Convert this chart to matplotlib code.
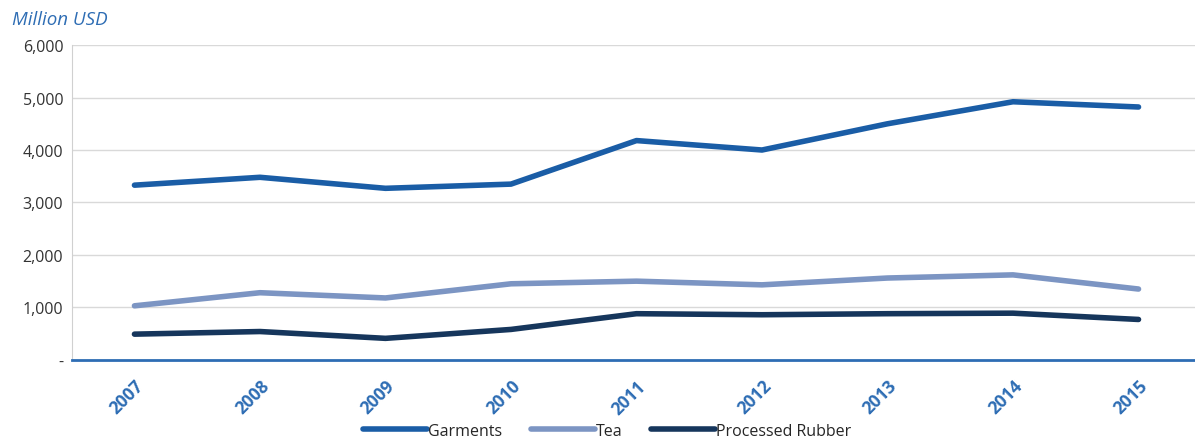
import numpy as np
import matplotlib
matplotlib.use("Agg")
import matplotlib.pyplot as plt
from matplotlib.ticker import FuncFormatter

years = ["2007", "2008", "2009", "2010", "2011", "2012", "2013", "2014", "2015"]
garments = [3330, 3480, 3270, 3350, 4180, 4000, 4500, 4920, 4820]
tea = [1030, 1280, 1180, 1450, 1500, 1430, 1560, 1620, 1350]
rubber = [490, 540, 410, 580, 880, 860, 880, 890, 770]

plt.rcParams['font.family'] = ['Open Sans', 'DejaVu Sans']

fig = plt.figure(figsize=(11.95, 4.39), dpi=100)
ax = fig.add_axes([0.060, 0.178, 0.940, 0.717])

x = np.arange(len(years))
kw = dict(lw=4.0, solid_capstyle='round', solid_joinstyle='round')
ax.plot(x, garments, color='#1a5da6', label='Garments', **kw)
ax.plot(x, tea, color='#7c95c3', label='Tea', **kw)
ax.plot(x, rubber, color='#16365c', label='Processed Rubber', **kw)

ax.set_xlim(-0.5, 8.45)
ax.set_ylim(0, 6000)
ax.set_yticks(range(0, 6001, 1000))
ax.yaxis.set_major_formatter(FuncFormatter(lambda v, p: '-' if v == 0 else f'{int(v):,}'))
ax.grid(axis='y', color='#d9d9d9', lw=1)
ax.set_axisbelow(True)

ax.set_xticks(x)
ax.set_xticklabels(years, rotation=45, ha='right', rotation_mode='anchor',
                   fontsize=12.5, fontweight='bold', color='#2e6db4')
ax.tick_params(axis='x', length=0, pad=12)
ax.tick_params(axis='y', length=0, labelsize=11.5, labelcolor='#333333', pad=6)

for s in ['top', 'right']:
    ax.spines[s].set_visible(False)
ax.spines['left'].set_color('#d0d0d0')
ax.spines['bottom'].set_color('#2e6db4')
ax.spines['bottom'].set_linewidth(2)

fig.text(0.010, 0.955, 'Million USD', fontsize=13.5, style='italic', color='#2e6db4', va='center')

fig.legend(loc='lower center', bbox_to_anchor=(0.508, -0.035), ncol=3, frameon=False,
           fontsize=11.5, handlelength=4.0, columnspacing=1.8, handletextpad=0.05,
           labelcolor='#262626')

fig.savefig('out.png', dpi=100)
